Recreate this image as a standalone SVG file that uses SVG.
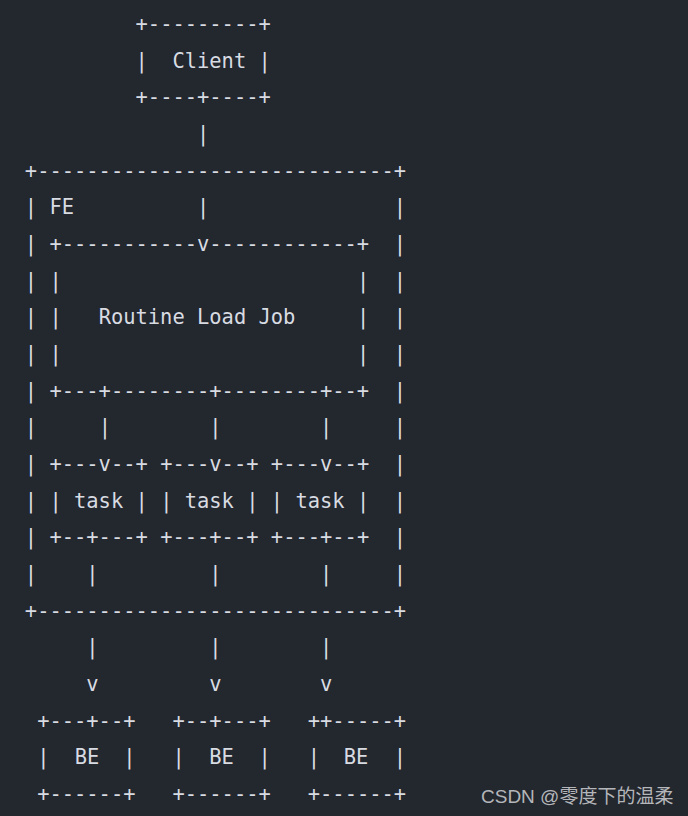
<svg xmlns="http://www.w3.org/2000/svg" width="688" height="816" viewBox="0 0 688 816">
<style>
.t { font-family: "DejaVu Sans Mono", "Liberation Mono", monospace; font-size: 20.43px; fill: #d8dce2; white-space: pre; }
.m { text-anchor: middle; }
.wm { font-family: "Liberation Sans", "Noto Sans CJK SC", sans-serif; font-size: 19px; fill: #b4b6ba; }
</style>
<rect x="0" y="0" width="688" height="816" fill="#23272e"/>
<g id="client">
<text class="t" xml:space="preserve" x="135.55" y="30.9">+---------+</text>
<text class="t" xml:space="preserve" x="135.55" y="67.6">|  Client |</text>
<text class="t" xml:space="preserve" x="135.55" y="104.2">+----+----+</text>
</g>
<g id="fe">
<text class="t" xml:space="preserve" x="24.85" y="177.6">+-----------------------------+</text>
<text class="t" xml:space="preserve" x="24.85" y="214.2">| FE</text>
<text class="t" x="393.85" y="214.2">|</text>
<text class="t" x="24.85" y="250.9">|</text><text class="t" x="393.85" y="250.9">|</text>
<text class="t" x="24.85" y="287.6">|</text><text class="t" x="393.85" y="287.6">|</text>
<text class="t" x="24.85" y="324.3">|</text><text class="t" x="393.85" y="324.3">|</text>
<text class="t" x="24.85" y="360.9">|</text><text class="t" x="393.85" y="360.9">|</text>
<text class="t" x="24.85" y="397.6">|</text><text class="t" x="393.85" y="397.6">|</text>
<text class="t" x="24.85" y="434.3">|</text><text class="t" x="393.85" y="434.3">|</text>
<text class="t" x="24.85" y="470.9">|</text><text class="t" x="393.85" y="470.9">|</text>
<text class="t" x="24.85" y="507.6">|</text><text class="t" x="393.85" y="507.6">|</text>
<text class="t" x="24.85" y="544.3">|</text><text class="t" x="393.85" y="544.3">|</text>
<text class="t" x="24.85" y="580.9">|</text><text class="t" x="393.85" y="580.9">|</text>
<text class="t" xml:space="preserve" x="24.85" y="617.6">+-----------------------------+</text>
</g>
<g id="routine-load-job">
<text class="t" xml:space="preserve" x="49.45" y="250.9">+-----------v------------+</text>
<text class="t" x="49.45" y="287.6">|</text><text class="t" x="356.95" y="287.6">|</text>
<text class="t" x="49.45" y="324.3">|</text><text class="t" x="98.65" y="324.3">Routine Load Job</text><text class="t" x="356.95" y="324.3">|</text>
<text class="t" x="49.45" y="360.9">|</text><text class="t" x="356.95" y="360.9">|</text>
<text class="t" xml:space="preserve" x="49.45" y="397.6">+---+--------+--------+--+</text>
</g>
<g id="task-1">
<text class="t" xml:space="preserve" x="49.45" y="470.9">+---v--+</text>
<text class="t" xml:space="preserve" x="49.45" y="507.6">| task |</text>
<text class="t" xml:space="preserve" x="49.45" y="544.3">+--+---+</text>
</g>
<g id="task-2">
<text class="t" xml:space="preserve" x="160.15" y="470.9">+---v--+</text>
<text class="t" xml:space="preserve" x="160.15" y="507.6">| task |</text>
<text class="t" xml:space="preserve" x="160.15" y="544.3">+---+--+</text>
</g>
<g id="task-3">
<text class="t" xml:space="preserve" x="270.85" y="470.9">+---v--+</text>
<text class="t" xml:space="preserve" x="270.85" y="507.6">| task |</text>
<text class="t" xml:space="preserve" x="270.85" y="544.3">+---+--+</text>
</g>
<g id="be-1">
<text class="t" xml:space="preserve" x="37.15" y="727.6">+---+--+</text>
<text class="t" x="37.15" y="764.3">|</text><text class="t m" x="87" y="764.3">BE</text><text class="t" x="123.25" y="764.3">|</text>
<text class="t" xml:space="preserve" x="37.15" y="800.9">+------+</text>
</g>
<g id="be-2">
<text class="t" xml:space="preserve" x="172.45" y="727.6">+--+---+</text>
<text class="t" x="172.45" y="764.3">|</text><text class="t m" x="221.5" y="764.3">BE</text><text class="t" x="258.55" y="764.3">|</text>
<text class="t" xml:space="preserve" x="172.45" y="800.9">+------+</text>
</g>
<g id="be-3">
<text class="t" xml:space="preserve" x="307.75" y="727.6">++-----+</text>
<text class="t" x="307.75" y="764.3">|</text><text class="t m" x="356" y="764.3">BE</text><text class="t" x="393.85" y="764.3">|</text>
<text class="t" xml:space="preserve" x="307.75" y="800.9">+------+</text>
</g>
<g id="connectors">
<text class="t" x="197.05" y="140.9">|</text>
<text class="t" x="197.05" y="214.2">|</text>
<text class="t" x="98.65" y="434.3">|</text><text class="t" x="209.35" y="434.3">|</text><text class="t" x="320.05" y="434.3">|</text>
<text class="t" x="86.35" y="580.9">|</text><text class="t" x="209.35" y="580.9">|</text><text class="t" x="320.05" y="580.9">|</text>
<text class="t" x="86.35" y="654.3">|</text><text class="t" x="209.35" y="654.3">|</text><text class="t" x="320.05" y="654.3">|</text>
<text class="t" x="86.35" y="690.9">v</text><text class="t" x="209.35" y="690.9">v</text><text class="t" x="320.05" y="690.9">v</text>
</g>
<text class="wm" x="481" y="803">CSDN @零度下的温柔</text>
</svg>
